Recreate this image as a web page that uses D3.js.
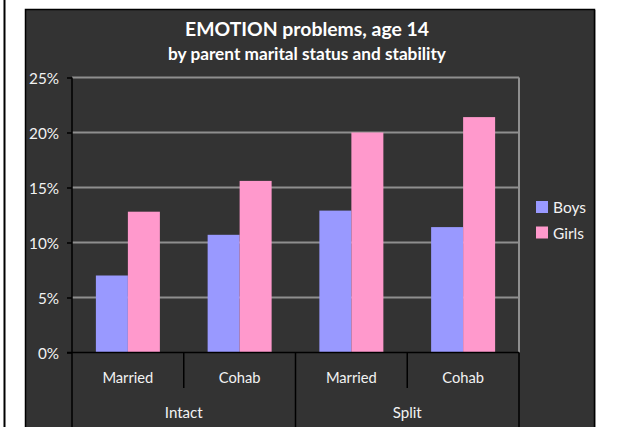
<!DOCTYPE html>
<html>
<head>
<meta charset="utf-8">
<script src="https://cdn.jsdelivr.net/npm/d3@7"></script>
<style>
html,body{margin:0;padding:0;background:#fff;}
svg{display:block;}
text{font-family:Lato,"Open Sans",sans-serif;}
</style>
</head>
<body>
<svg id="chart" width="623" height="427"></svg>
<script>
const groups = ["Intact", "Split"];
const subCats = ["Married", "Cohab"];
const series = ["Boys", "Girls"];
const boys = [7.0, 10.7, 12.9, 11.4];
const girls = [12.8, 15.6, 20.0, 21.4];
const yTicks = [0, 5, 10, 15, 20, 25];
const colors = {Boys: "#9999FF", Girls: "#FF99CC"};
const titleText = "EMOTION problems, age 14";
const subtitleText = "by parent marital status and stability";

const categories = [];
groups.forEach(g => subCats.forEach(s => categories.push({group: g, sub: s, key: g + "|" + s})));
const data = categories.map((c, i) => ({...c, Boys: boys[i], Girls: girls[i]}));

const W = 623, H = 427;
const svg = d3.select("#chart");
const plot = {left: 72, right: 519, top: 77.5, bottom: 352.5};

// font size so that a sample text gets the target width
function fitSize(sample, target, weight) {
  const t = svg.append("text").attr("font-size", 100).attr("font-weight", weight || "normal")
    .style("font-family", "Lato, 'Open Sans', sans-serif").text(sample);
  const w = t.node().getComputedTextLength();
  t.remove();
  return w > 0 ? 100 * target / w : 15;
}

// backgrounds
svg.append("rect").attr("x", 0).attr("y", 0).attr("width", W).attr("height", H).attr("fill", "#fff");
svg.append("line").attr("x1", 4.5).attr("x2", 4.5).attr("y1", 0).attr("y2", H).attr("stroke", "#000").attr("stroke-width", 2);
svg.append("line").attr("x1", 595.5).attr("x2", 595.5).attr("y1", 10).attr("y2", H).attr("stroke", "#bbb").attr("stroke-width", 1);
svg.append("rect").attr("x", 25.5).attr("y", 9.5).attr("width", 569).attr("height", H).attr("fill", "#333333").attr("stroke", "#000").attr("stroke-width", 1.5);

const x = d3.scaleBand().domain(categories.map(c => c.key)).range([plot.left, plot.right]).padding(0);
const xs = d3.scaleBand().domain(series).range([0, x.bandwidth()]).paddingInner(0).paddingOuter(0.746);
const y = d3.scaleLinear().domain([0, 25]).range([plot.bottom, plot.top]);

const ySize = fitSize("25%", 30);
const catSize = fitSize("Married", 51);
const grpSize = fitSize("Intact", 38);
const legSize = fitSize("Boys", 33);
const titleSize = fitSize(titleText, 244, "bold");
const subSize = fitSize(subtitleText, 278, "bold");

// gridlines
svg.append("g").selectAll("line").data(yTicks.filter(t => t > 0)).join("line")
  .attr("x1", plot.left).attr("x2", plot.right)
  .attr("y1", d => y(d)).attr("y2", d => y(d))
  .attr("stroke", "#8f8f8f").attr("stroke-width", 2);
svg.append("line").attr("x1", plot.right).attr("x2", plot.right).attr("y1", plot.top).attr("y2", plot.bottom)
  .attr("stroke", "#8f8f8f").attr("stroke-width", 2);

// bars
svg.append("g").selectAll("g").data(data).join("g")
  .attr("transform", d => `translate(${x(d.key)},0)`)
  .selectAll("rect").data(d => series.map(s => ({s, v: d[s]}))).join("rect")
  .attr("x", d => xs(d.s)).attr("width", xs.bandwidth())
  .attr("y", d => y(d.v)).attr("height", d => y(0) - y(d.v))
  .attr("fill", d => colors[d.s]);

// y axis
const yAxis = d3.axisLeft(y).tickValues(yTicks).tickFormat(d => d + "%").tickSize(5).tickPadding(8);
const ya = svg.append("g").attr("transform", `translate(${plot.left},0)`).call(yAxis)
  .attr("font-family", "Lato, 'Open Sans', sans-serif").attr("font-size", ySize);
ya.select(".domain").remove();
ya.selectAll(".tick line").attr("stroke", "#000").attr("stroke-width", 1.5);
ya.selectAll(".tick text").attr("fill", "#f2f2f2").attr("font-size", ySize).attr("dy", "0.36em");

// axis lines
svg.append("line").attr("x1", plot.left).attr("x2", plot.left).attr("y1", plot.top).attr("y2", H)
  .attr("stroke", "#000").attr("stroke-width", 1.5);
svg.append("line").attr("x1", plot.left - 5).attr("x2", plot.right).attr("y1", plot.bottom).attr("y2", plot.bottom)
  .attr("stroke", "#000").attr("stroke-width", 1.5);

// category separators
const subBounds = categories.slice(1).map(c => x(c.key));
svg.append("g").selectAll("line").data(subBounds).join("line")
  .attr("x1", d => d).attr("x2", d => d)
  .attr("y1", plot.bottom).attr("y2", (d, i) => categories[i + 1].sub === subCats[0] ? H : 388)
  .attr("stroke", "#000").attr("stroke-width", 1.5);
svg.append("line").attr("x1", plot.right).attr("x2", plot.right).attr("y1", plot.bottom).attr("y2", H)
  .attr("stroke", "#000").attr("stroke-width", 1.5);

// category labels
svg.append("g").selectAll("text").data(categories).join("text")
  .attr("x", d => x(d.key) + x.bandwidth() / 2).attr("y", 383)
  .attr("text-anchor", "middle").attr("fill", "#f2f2f2").attr("font-size", catSize)
  .text(d => d.sub);
svg.append("g").selectAll("text").data(groups).join("text")
  .attr("x", gr => {
    const ks = categories.filter(c => c.group === gr);
    return (x(ks[0].key) + x(ks[ks.length - 1].key) + x.bandwidth()) / 2;
  })
  .attr("y", 418).attr("text-anchor", "middle").attr("fill", "#f2f2f2").attr("font-size", grpSize)
  .text(d => d);

// title
svg.append("text").attr("x", 307).attr("y", 36).attr("text-anchor", "middle")
  .attr("fill", "#fff").attr("font-size", titleSize).attr("font-weight", "bold")
  .text(titleText);
svg.append("text").attr("x", 307).attr("y", 60).attr("text-anchor", "middle")
  .attr("fill", "#fff").attr("font-size", subSize).attr("font-weight", "bold")
  .text(subtitleText);

// legend
const leg = svg.append("g").selectAll("g").data(series).join("g")
  .attr("transform", (d, i) => `translate(536,${201 + i * 25.5})`);
leg.append("rect").attr("width", 12).attr("height", 12).attr("fill", d => colors[d]);
leg.append("text").attr("x", 17).attr("y", 12).attr("fill", "#f2f2f2").attr("font-size", legSize).text(d => d);
</script>
</body>
</html>
